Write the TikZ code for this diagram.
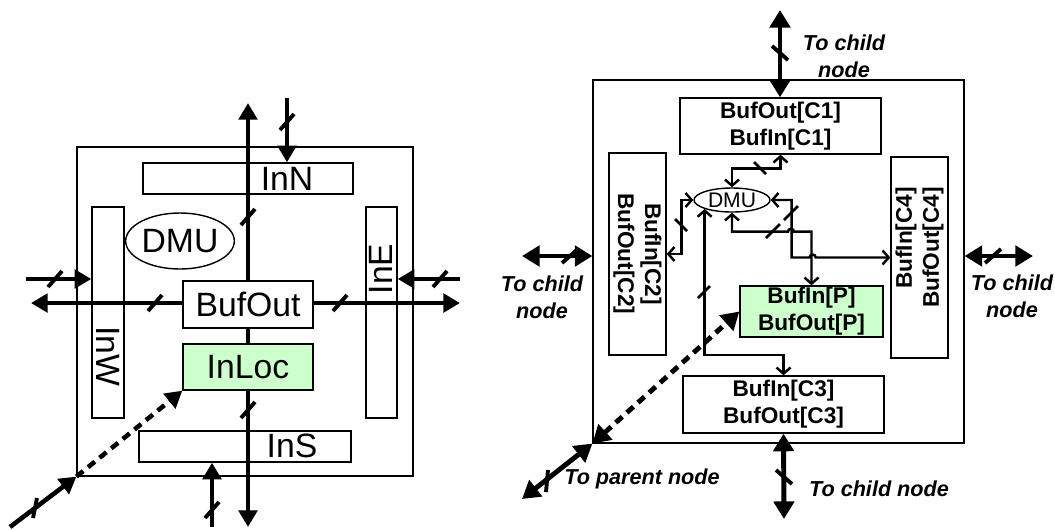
\documentclass[tikz,border=0pt]{standalone}
\usepackage{fontspec}
\setmainfont{Liberation Sans}
\usetikzlibrary{arrows.meta, shapes.geometric}
\definecolor{bufgreen}{HTML}{CCFFCC}

\begin{document}
\begin{tikzpicture}[x=0.02cm, y=-0.02cm,
    blk/.style={draw, line width=0.8pt, inner sep=0pt},
    big/.style={font=\fontsize{19.2}{22}\selectfont},
    small/.style={font=\bfseries\fontsize{12.9}{15.3}\selectfont, align=center},
    lbl/.style={font=\bfseries\itshape\fontsize{12.3}{15.3}\selectfont, align=center},
    fat/.style={line width=2.6pt, -{Triangle[length=9.5pt,width=10.5pt]}},
    fatdbl/.style={line width=2.8pt, {Triangle[length=10pt,width=11.5pt]}-{Triangle[length=10pt,width=11.5pt]}},
    wire/.style={line width=1.4pt, {Straight Barb[length=3.5pt,width=8pt]}-{Straight Barb[length=3.5pt,width=8pt]}},
    dots/.style={dash pattern=on 5pt off 3.5pt},
    tick/.style={line width=2.2pt},
    thintick/.style={line width=1.5pt}]
  \useasboundingbox (0,0) rectangle (1055,529);

  % left: router with input buffers
  \node[blk, line width=0.7pt, minimum width=6.72cm, minimum height=6.58cm] (frameL) at (245,311.5) {};
  \node[blk, minimum width=4.2cm, minimum height=0.62cm] (inN) at (248,178.5) {};
  \node[big] (inNtxt) at (287,179) {InN};
  \node[blk, minimum width=4.24cm, minimum height=0.62cm] (inS) at (245,446.5) {};
  \node[big] (inStxt) at (292,446) {InS};
  \node[blk, minimum width=0.64cm, minimum height=4.22cm] (inW) at (108,312.5) {};
  \node[big, rotate=-90] (inWtxt) at (108,356) {InW};
  \node[blk, minimum width=0.62cm, minimum height=4.22cm] (inE) at (381.5,312.5) {};
  \node[big, rotate=90] (inEtxt) at (381,269) {InE};
  \node[blk, ellipse, big, minimum width=2.16cm, minimum height=1.12cm] (dmuL) at (180,241) {DMU};
  \node[blk, big, fill=white, minimum width=2.6cm, minimum height=0.94cm] (bufOut) at (248,304.5) {BufOut};
  \node[blk, big, fill=bufgreen, minimum width=2.6cm, minimum height=0.92cm] (inLoc) at (248,367) {InLoc};

  \coordinate (nOut) at (248,103);
  \coordinate (nIn) at (287,98);
  \coordinate (sOut) at (248,527);
  \coordinate (sIn) at (212,527);
  \coordinate (wIn) at (26,279);
  \coordinate (wOut) at (31,303);
  \coordinate (eOut) at (460,303);
  \coordinate (eIn) at (460,279);
  \coordinate (locIn) at (10,527);

  \draw[fat] (bufOut.north) -- (nOut);
  \draw[fat] (nIn) -- (nIn |- inN.north);
  \draw[line width=2.6pt] (bufOut.south) -- (inLoc.north);
  \draw[fat] (inLoc.south) -- (sOut);
  \draw[fat] (sIn) -- (sIn |- inS.south);
  \draw[fat] (wIn) -- (wIn -| inW.west);
  \draw[fat] (bufOut.west |- wOut) -- (wOut);
  \draw[fat] (bufOut.east |- eOut) -- (eOut);
  \draw[fat] (eIn) -- (eIn -| inE.east);
  \draw[fat, dots] (frameL.south west) -- (inLoc.south west);
  \draw[fat] (locIn) -- (frameL.south west);

  \draw[tick] (248,217) +(-7,8) -- +(7,-8);
  \draw[tick] (287,122) +(-7,8) -- +(7,-8);
  \draw[tick] (248,410) +(-7,8) -- +(7,-8);
  \draw[tick] (212,510) +(-7,8) -- +(7,-8);
  \draw[tick] (55,279) +(-7,8) -- +(7,-8);
  \draw[tick] (155,303) +(-7,8) -- +(7,-8);
  \draw[tick] (340,303) +(-7,8) -- +(7,-8);
  \draw[tick] (440,279) +(-7,8) -- +(7,-8);
  \draw[tick] (35,508) +(-2,10) -- +(2,-10);

  % right: tree node
  \node[blk, line width=0.7pt, minimum width=7.42cm, minimum height=7.26cm] (frameR) at (778.5,261.5) {};
  \node[blk, small, minimum width=4.02cm, minimum height=1.12cm] (c1) at (780.5,126) {BufOut[C1]\\BufIn[C1]};
  \node[blk, small, rotate=-90, minimum width=4.04cm, minimum height=1.14cm] (c2) at (637.5,254) {BufIn[C2]\\BufOut[C2]};
  \node[blk, small, rotate=90, align=right, text width=2.82cm, minimum width=4.02cm, minimum height=1.14cm] (c4) at (919.5,257.5) {BufIn[C4]\\BufOut[C4]};
  \node[blk, small, fill=bufgreen, minimum width=2.86cm, minimum height=1.02cm] (p) at (811.5,311.5) {BufIn[P]\\BufOut[P]};
  \node[blk, small, minimum width=4.02cm, minimum height=1.14cm] (c3) at (783.5,404.5) {BufIn[C3]\\BufOut[C3]};
  \node[blk, ellipse, font=\fontsize{12}{14}\selectfont, minimum width=1.52cm, minimum height=0.48cm] (dmuR) at (732,200) {DMU};

  \coordinate (topEnd) at (780,10);
  \coordinate (botEnd) at (784,519);
  \coordinate (leftEnd) at (522,256);
  \coordinate (rightEnd) at (1033,256);
  \coordinate (parEnd) at (522,499);

  \draw[fatdbl] (topEnd) -- (topEnd |- c1.north);
  \draw[fatdbl] (c3.south) -- (botEnd);
  \draw[fatdbl] (leftEnd) -- (leftEnd -| frameR.west);
  \draw[fatdbl] (rightEnd -| frameR.east) -- (rightEnd);
  \draw[fatdbl] (frameR.south west) -- (parEnd);
  \draw[fatdbl, dots] (frameR.south west) -- (p.west);

  \draw[tick] (780,53) +(-8,-7) -- +(8,7);
  \draw[tick] (784,477) +(-8,-7) -- +(8,7);
  \draw[tick] (570,256) +(-8,7) -- +(8,-7);
  \draw[tick] (993,256) +(-8,7) -- +(8,-7);
  \draw[tick] (547,481) +(-1,11) -- +(1,-11);

  \draw[wire] (c1.south) -- ++(0,14) -| (dmuR.north);
  \draw[wire] (c2.north) -- ++(15,0) |- (dmuR.west);
  \draw[wire] (dmuR.south west) -- ++(0,146) -| (c3.north);
  \draw[wire] (dmuR.east) -- ++(21,0) -- ++(0,57.5) -- ++(18,0)
    arc[start angle=180, end angle=360, radius=3] -- (c4.north);
  \draw[wire] (dmuR.south) -- ++(0,19) -- ++(56,0)
    arc[start angle=180, end angle=360, radius=3] -| (p.north);

  \draw[thintick] (760,168) +(-6,-6) -- +(6,6);
  \draw[thintick] (681,225) +(-6,-6) -- +(6,6);
  \draw[thintick] (704,292) +(-6,6) -- +(6,-6);
  \draw[thintick] (791,213) +(-7,7) -- +(7,-7);
  \draw[thintick] (773,231) +(-7,7) -- +(7,-7);

  \node[lbl] (lblTop) at (844,56) {To child\\node};
  \node[lbl] (lblLeft) at (542,297) {To child\\node};
  \node[lbl] (lblRight) at (1012,296) {To child\\node};
  \node[lbl] (lblBot) at (879,489) {To child node};
  \node[lbl] (lblPar) at (642,479) {To parent node};
\end{tikzpicture}
\end{document}
